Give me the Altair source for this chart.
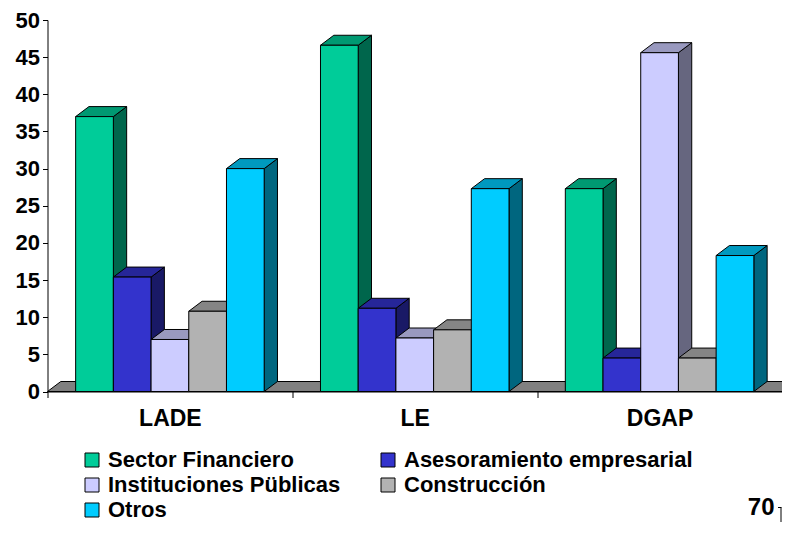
import altair as alt
import pandas as pd

# ---- data ----
categories = ["LADE", "LE", "DGAP"]
series = ["Sector Financiero", "Asesoramiento empresarial", "Instituciones Püblicas",
          "Construcción", "Otros"]
sector_financiero = [37.0, 46.6, 27.3]
asesoramiento = [15.4, 11.2, 4.5]
instituciones = [7.0, 7.2, 45.6]
construccion = [10.8, 8.3, 4.5]
otros = [30.0, 27.3, 18.3]
values = [sector_financiero, asesoramiento, instituciones, construccion, otros]
colors = ["#00CC99", "#3333CC", "#CCCCFF", "#B2B2B2", "#00CCFF"]
y_ticks = list(range(0, 51, 5))

# ---- geometry / style ----
W, H = 734.5, 371.5
NCAT = len(categories)
YMAX = 50
D = 13.3 * NCAT / W          # depth in x units
DY = 10.0 * YMAX / H         # depth in y units
BAR = 0.154                  # bar width (fraction of category)
OFF = (1 - len(series) * BAR) / 2
FONT = "Liberation Sans, Arial, sans-serif"


def shade(hex_color, f):
    h = hex_color.lstrip("#")
    r, g, b = (int(h[i:i + 2], 16) for i in (0, 2, 4))
    return "#%02x%02x%02x" % (int(r * f), int(g * f), int(b * f))


fronts, sides, tops = [], [], []
for ci, cat in enumerate(categories):
    for si, name in enumerate(series):
        v = values[si][ci]
        xl = ci + OFF + si * BAR
        xr = xl + BAR
        bid = f"{ci}-{si}"
        fronts.append({"serie": name, "x": xl, "x2": xr, "y": 0, "y2": v})
        sides.append({"id": bid, "x": xr, "y": v, "y2": 0, "fill": shade(colors[si], 0.5)})
        sides.append({"id": bid, "x": xr + D, "y": v + DY, "y2": DY, "fill": shade(colors[si], 0.5)})
        tops.append({"id": bid, "y": v, "x": xl, "x2": xr, "fill": shade(colors[si], 0.75)})
        tops.append({"id": bid, "y": v + DY, "x": xl + D, "x2": xr + D, "fill": shade(colors[si], 0.75)})

floor = pd.DataFrame([
    {"id": "floor", "y": 0, "x": 0, "x2": NCAT},
    {"id": "floor", "y": DY, "x": D, "x2": NCAT + D},
])

xscale = alt.Scale(domain=[0, NCAT], nice=False, zero=False)
yscale = alt.Scale(domain=[0, YMAX], nice=False)

label_expr = " : ".join(
    f"abs(datum.value - {i + 0.5}) < 0.01 ? '{c}'" for i, c in enumerate(categories)
) + " : ''"

xaxis = alt.Axis(
    values=[i * 0.5 for i in range(2 * NCAT + 1)],
    labelExpr=label_expr,
    tickOpacity={"condition": {"test": "datum.value % 1 != 0", "value": 0}, "value": 1},
    tickSize=6, tickColor="black", domainColor="black", grid=False,
    labelFont=FONT, labelFontSize=23, labelFontWeight="bold", labelColor="black",
    labelPadding=10, labelFlush=False, labelOverlap=False, title=None,
)
yaxis = alt.Axis(
    values=y_ticks, tickSize=5, tickColor="black", domainColor="black", grid=False,
    labelFont=FONT, labelFontSize=22, labelFontWeight="bold", labelColor="black",
    labelPadding=3, title=None,
)

X = alt.X("x:Q", scale=xscale, axis=xaxis, title=None)
X2 = alt.X2("x2:Q")
Y = alt.Y("y:Q", scale=yscale, axis=yaxis, title=None)
Y2 = alt.Y2("y2:Q")

floor_layer = alt.Chart(floor).mark_area(
    orient="horizontal", fill="#808080", stroke="black", strokeWidth=1
).encode(y=Y, x=X, x2=X2, detail="id:N")

side_layer = alt.Chart(pd.DataFrame(sides)).mark_area(
    orient="vertical", stroke="black", strokeWidth=1
).encode(x=X, y=Y, y2=Y2, detail="id:N", fill=alt.Fill("fill:N", scale=None))

top_layer = alt.Chart(pd.DataFrame(tops)).mark_area(
    orient="horizontal", stroke="black", strokeWidth=1
).encode(y=Y, x=X, x2=X2, detail="id:N", fill=alt.Fill("fill:N", scale=None))

front_layer = alt.Chart(pd.DataFrame(fronts)).mark_rect(
    stroke="black", strokeWidth=1
).encode(
    x=X, x2=X2, y=Y, y2=Y2,
    color=alt.Color(
        "serie:N",
        scale=alt.Scale(domain=series, range=colors),
        sort=series,
        legend=alt.Legend(
            orient="none", legendX=33.5, legendY=429, columns=2, direction="horizontal",
            title=None, symbolType="square", symbolSize=196, symbolStrokeColor="black",
            symbolStrokeWidth=1, labelFont=FONT, labelFontSize=22,
            labelFontWeight="bold", labelColor="black", columnPadding=36,
            rowPadding=3, labelOffset=5, labelLimit=0, padding=0,
        ),
    ),
)

dummy = alt.Data(values=[{}])
page_text = alt.Chart(dummy).mark_text(
    text="70", font=FONT, fontSize=24, fontWeight="bold", align="right",
    baseline="alphabetic", color="black"
).encode(x=alt.value(727), y=alt.value(495))
rule_h = alt.Chart(dummy).mark_rule(color="black", strokeWidth=1).encode(
    x=alt.value(730.5), x2=alt.value(734), y=alt.value(487.5))
rule_v = alt.Chart(dummy).mark_rule(color="black", strokeWidth=1).encode(
    x=alt.value(733.5), y=alt.value(487.5), y2=alt.value(502))

chart = alt.layer(
    floor_layer, side_layer, top_layer, front_layer, page_text, rule_h, rule_v
).properties(
    width=W, height=H,
    autosize=alt.AutoSizeParams(type="none"),
    padding={"left": 39.5, "top": 12, "right": 0, "bottom": 130.5},
).configure_view(stroke=None)

chart.save("out.html", embed_options={"renderer": "svg", "actions": False})
